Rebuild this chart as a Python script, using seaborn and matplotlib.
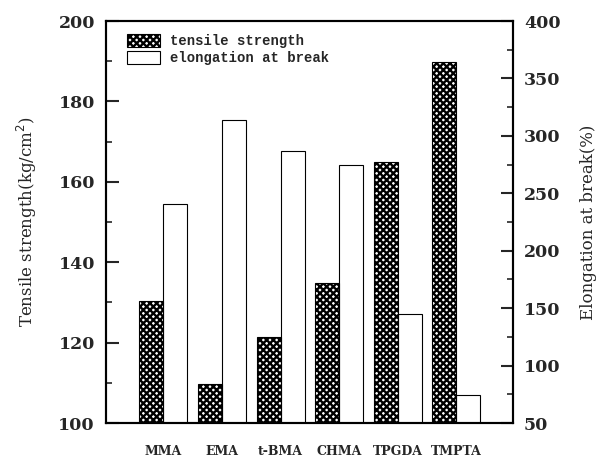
import matplotlib
matplotlib.use("Agg")
import matplotlib.pyplot as plt
import matplotlib.patches as mpatches
from matplotlib.ticker import MultipleLocator
import numpy as np
import pandas as pd
import seaborn as sns

categories = ["MMA", "EMA", "t-BMA", "CHMA", "TPGDA", "TMPTA"]
tensile = [130.3, 109.6, 121.5, 134.9, 165.0, 189.7]
elongation = [240.6, 314.0, 287.0, 275.0, 144.6, 74.4]
series_names = ["tensile strength", "elongation at break"]

sns.set_theme(style="white")
plt.rcParams["font.family"] = ["DejaVu Serif"]
plt.rcParams["hatch.color"] = "black"
plt.rcParams["hatch.linewidth"] = 1.7

df1 = pd.DataFrame({"cat": categories * 2,
                    "series": [series_names[0]] * 6 + [series_names[1]] * 6,
                    "value": tensile + [np.nan] * 6})
df2 = pd.DataFrame({"cat": categories * 2,
                    "series": [series_names[0]] * 6 + [series_names[1]] * 6,
                    "value": [np.nan] * 6 + elongation})

fig = plt.figure(figsize=(5.99, 4.58), dpi=100)
ax1 = fig.add_axes([0.177, 0.0764, 0.6794, 0.8776])
ax2 = ax1.twinx()

sns.barplot(data=df1, x="cat", y="value", hue="series", hue_order=series_names,
            order=categories, ax=ax1, width=0.82, gap=0, legend=False,
            palette=["white", "white"], edgecolor="black", linewidth=0.8,
            errorbar=None)
sns.barplot(data=df2, x="cat", y="value", hue="series", hue_order=series_names,
            order=categories, ax=ax2, width=0.82, gap=0, legend=False,
            palette=["white", "white"], edgecolor="black", linewidth=0.8,
            errorbar=None)

for p in ax1.patches:
    p.set_hatch("xxxxx")
    p.set_facecolor("white")

ax1.set_xlim(-0.98, 5.97)
ax1.set_ylim(100, 200)
ax2.set_ylim(50, 400)

ax1.yaxis.set_major_locator(MultipleLocator(20))
ax1.yaxis.set_minor_locator(MultipleLocator(10))
ax2.yaxis.set_major_locator(MultipleLocator(50))
ax2.yaxis.set_minor_locator(MultipleLocator(25))

for ax in (ax1, ax2):
    for s in ax.spines.values():
        s.set_linewidth(1.5)
        s.set_color("black")

ax1.tick_params(axis="y", which="major", direction="in", length=9, width=1.5,
                labelsize=12.5, pad=8, left=True)
ax1.tick_params(axis="y", which="minor", direction="in", length=4, width=1.2, left=True)
ax2.tick_params(axis="y", which="major", direction="in", length=9, width=1.5,
                labelsize=12.5, pad=8, right=True)
ax2.tick_params(axis="y", which="minor", direction="in", length=4, width=1.2, right=True)
ax1.tick_params(axis="x", length=0, pad=16, labelsize=9)

for lab in ax1.get_yticklabels() + ax2.get_yticklabels():
    lab.set_fontweight("bold")
for lab in ax1.get_xticklabels():
    lab.set_fontweight("bold")

ax1.set_xlabel("")
ax1.set_ylabel("Tensile strength(kg/cm$^2$)", fontsize=12, labelpad=14)
ax2.set_ylabel("Elongation at break(%)", fontsize=12, labelpad=14)

handles = [mpatches.Patch(facecolor="white", edgecolor="black", hatch="xxxxx", linewidth=0.8),
           mpatches.Patch(facecolor="white", edgecolor="black", linewidth=0.8)]
leg = ax1.legend(handles, series_names, loc="upper left", frameon=False,
                 bbox_to_anchor=(0.02, 1.0), handlelength=2.4,
                 handleheight=1.1, labelspacing=0.2, handletextpad=0.7,
                 prop={"family": "Liberation Mono", "weight": "bold", "size": 10})
ax1.set_zorder(ax2.get_zorder() + 1)
ax1.patch.set_visible(False)

fig.savefig("out.png", dpi=100)
